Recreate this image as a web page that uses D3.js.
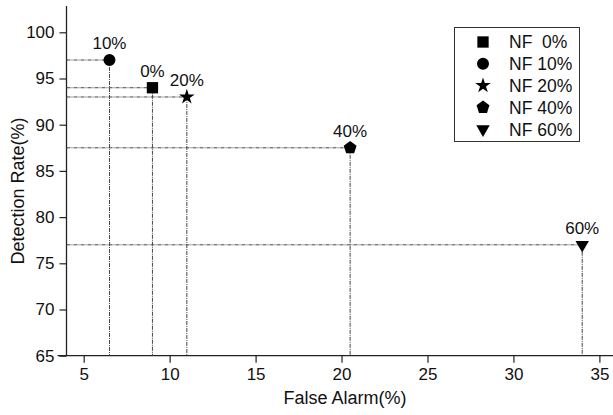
<!DOCTYPE html>
<html><head><meta charset="utf-8">
<script src="https://cdn.jsdelivr.net/npm/d3@7"></script>
<style>
body{margin:0;background:#fff;}
text{font-family:"Liberation Sans",Arial,sans-serif;fill:#111;}
</style></head>
<body><svg id="c" width="613" height="415"></svg>
<script>
const categories = ["NF  0%", "NF 10%", "NF 20%", "NF 40%", "NF 60%"];
const pointLabels = ["0%", "10%", "20%", "40%", "60%"];
const falseAlarm = [9, 6.5, 11, 20.5, 34];
const detectionRate = [94, 97, 93, 87.5, 77];
const xTicks = [5, 10, 15, 20, 25, 30, 35];
const yTicks = [65, 70, 75, 80, 85, 90, 95, 100];
const symbolNames = ["square", "circle", "star", "pentagon", "triangleDown"];

const svg = d3.select("#c");
const x = d3.scaleLinear().domain([4, 34]).range([66.5, 582.2]);
const y = d3.scaleLinear().domain([65, 100]).range([355.7, 32.3]);

const pentagon = {draw(ctx, size){
  const r = Math.sqrt(size / 2.378);
  for (let i = 0; i < 5; i++) {
    const a = -Math.PI/2 + i * 2*Math.PI/5;
    const px = r*Math.cos(a), py = r*Math.sin(a);
    i ? ctx.lineTo(px, py) : ctx.moveTo(px, py);
  }
  ctx.closePath();
}};
const triDown = {draw(ctx, size){
  const s = Math.sqrt(size / 0.433);
  const h = s * Math.sqrt(3) / 2;
  ctx.moveTo(-s/2, -h/3);
  ctx.lineTo(s/2, -h/3);
  ctx.lineTo(0, 2*h/3);
  ctx.closePath();
}};
const symbolTypes = {
  square: [d3.symbolSquare, 128],
  circle: [d3.symbolCircle, 113],
  star: [d3.symbolStar, 75],
  pentagon: [pentagon, 110],
  triangleDown: [triDown, 78]
};
const sym = name => d3.symbol().type(symbolTypes[name][0]).size(symbolTypes[name][1])();

// axes
const xAxisY = y(65), yAxisX = x(4);
const gx = svg.append("g").attr("transform", `translate(0,${xAxisY})`)
  .call(d3.axisBottom(x).tickValues(xTicks).tickSize(7).tickPadding(5).tickFormat(d3.format("d")));
gx.select(".domain").remove();
gx.append("line").attr("x1", yAxisX - 9).attr("x2", 613).attr("y1", 0).attr("y2", 0)
  .attr("stroke", "#222").attr("stroke-width", 1.3);
gx.selectAll(".tick line").attr("stroke", "#222").attr("stroke-width", 1.2);
gx.selectAll(".tick text").attr("font-size", 17).attr("fill", "#111")
  .attr("font-family", "Liberation Sans, Arial, sans-serif").attr("dy", "0.72em");

const gy = svg.append("g").attr("transform", `translate(${yAxisX},0)`)
  .call(d3.axisLeft(y).tickValues(yTicks).tickSize(7).tickPadding(5).tickFormat(d3.format("d")));
gy.select(".domain").remove();
gy.append("line").attr("x1", 0).attr("x2", 0).attr("y1", 6).attr("y2", xAxisY)
  .attr("stroke", "#222").attr("stroke-width", 1.3);
gy.selectAll(".tick line").attr("stroke", "#222").attr("stroke-width", 1.2);
gy.selectAll(".tick text").attr("font-size", 17).attr("fill", "#111")
  .attr("font-family", "Liberation Sans, Arial, sans-serif");

// axis titles
svg.append("text").attr("x", 345).attr("y", 404).attr("text-anchor", "middle")
  .attr("font-size", 18).text("False Alarm(%)");
svg.append("text").attr("transform", "translate(24,191) rotate(-90)")
  .attr("text-anchor", "middle").attr("font-size", 18).text("Detection Rate(%)");

// guide lines
const data = categories.map((c, i) => ({c, lab: pointLabels[i], fa: falseAlarm[i], dr: detectionRate[i], s: symbolNames[i]}));
const guides = svg.append("g").attr("stroke", "#444").attr("stroke-width", 1).attr("stroke-dasharray", "4,1,1,1").attr("fill", "none");
data.forEach(d => {
  guides.append("line").attr("x1", yAxisX).attr("x2", x(d.fa)).attr("y1", y(d.dr)).attr("y2", y(d.dr));
  guides.append("line").attr("x1", x(d.fa)).attr("x2", x(d.fa)).attr("y1", y(d.dr)).attr("y2", xAxisY);
});

// points
svg.append("g").selectAll("path").data(data).join("path")
  .attr("d", d => sym(d.s))
  .attr("transform", d => `translate(${x(d.fa)},${y(d.dr)})`)
  .attr("fill", "#000");
svg.append("g").selectAll("text").data(data).join("text")
  .attr("x", d => x(d.fa)).attr("y", d => y(d.dr) - 11)
  .attr("text-anchor", "middle").attr("font-size", 17).text(d => d.lab);

// legend
const lg = svg.append("g");
lg.append("rect").attr("x", 454.5).attr("y", 27.5).attr("width", 125).attr("height", 114)
  .attr("fill", "#fff").attr("stroke", "#333").attr("stroke-width", 1);
data.forEach((d, i) => {
  const cy = 42 + i * 21.8;
  lg.append("path").attr("d", sym(d.s)).attr("transform", `translate(483,${cy})`).attr("fill", "#000");
  lg.append("text").attr("x", 509).attr("y", cy + 6.3).attr("font-size", 17.5)
    .style("white-space", "pre").text(d.c);
});
</script></body></html>
